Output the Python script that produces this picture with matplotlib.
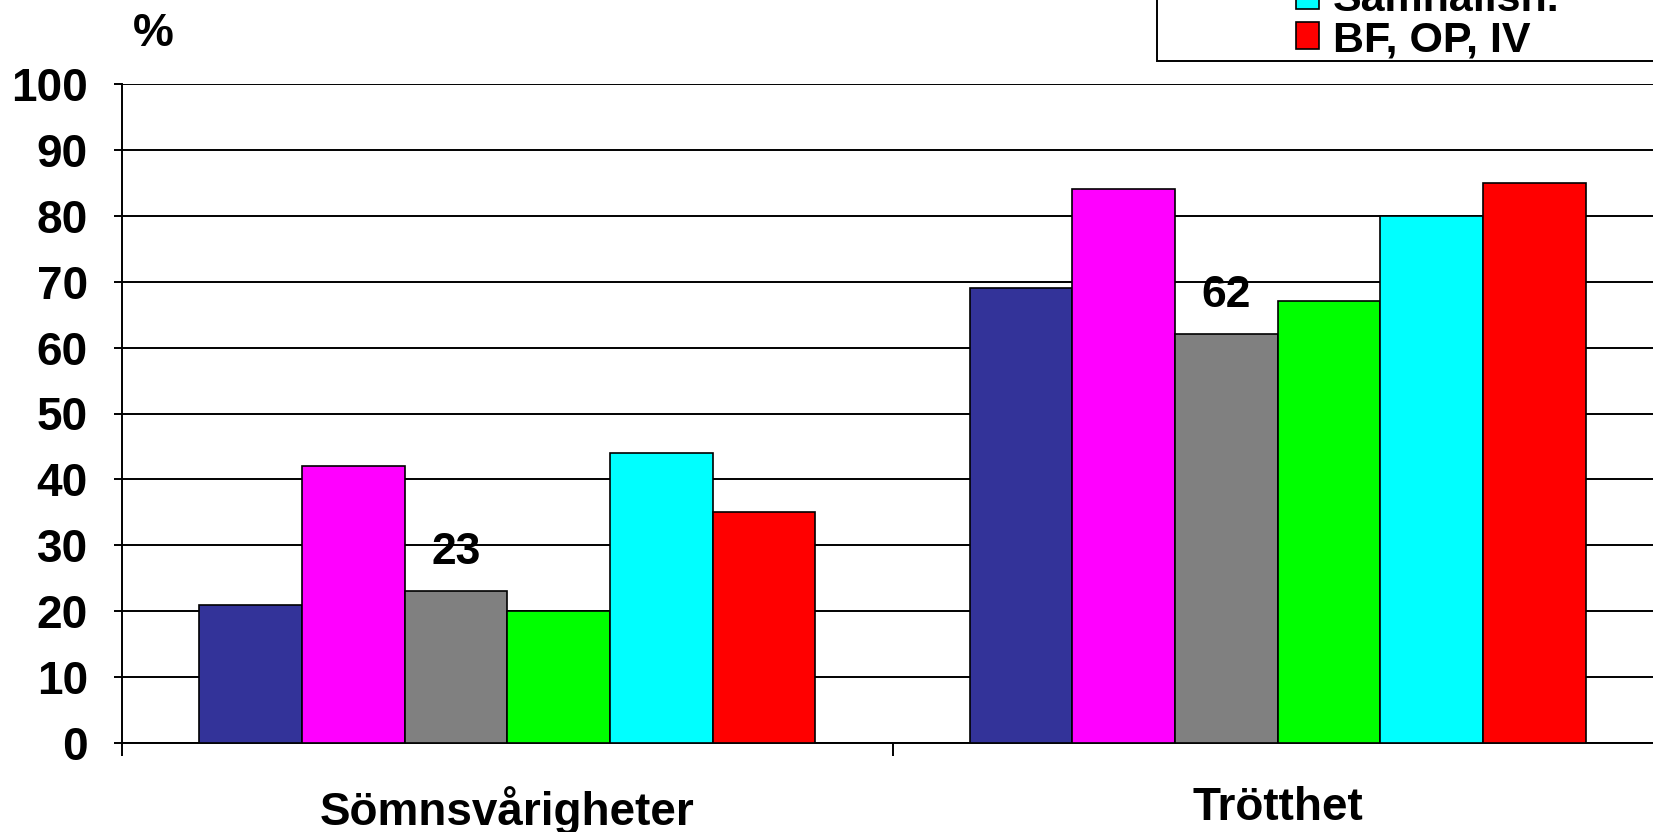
import matplotlib
matplotlib.use("Agg")
import matplotlib.pyplot as plt
from matplotlib.patches import Rectangle
import numpy as np

categories = ["Sömnsvårigheter", "Trötthet"]
series_names = ["Serie 1", "Serie 2", "Serie 3", "Serie 4", "Samhällsh.", "BF, OP, IV"]
series_colors = ["#333399", "#FF00FF", "#808080", "#00FF00", "#00FFFF", "#FF0000"]
values = [
    [21, 69],
    [42, 84],
    [23, 62],
    [20, 67],
    [44, 80],
    [35, 85],
]
labelled_series = 2  # gray series shows value labels
legend_series = [4, 5]  # entries of the legend that show in the picture
y_ticks = [0, 10, 20, 30, 40, 50, 60, 70, 80, 90, 100]

plt.rcParams["font.family"] = ["Liberation Sans", "DejaVu Sans"]
plt.rcParams["font.weight"] = "bold"

W, H = 1653, 832
fig = plt.figure(figsize=(W / 100, H / 100), dpi=100)
ax = fig.add_axes([122 / W, 1 - 743 / H, (1663 - 122) / W, (743 - 84) / H])

x = np.arange(len(categories))
n = len(series_names)
group_w = 0.8
bw = group_w / n
handles = []
for i, (name, col, vals) in enumerate(zip(series_names, series_colors, values)):
    xs = x - group_w / 2 + bw * (i + 0.5)
    b = ax.bar(xs, vals, width=bw, color=col, edgecolor="black", linewidth=1.2,
               label=name, zorder=3)
    handles.append(b)
    if i == labelled_series:
        for xx, v in zip(xs, vals):
            ax.annotate(str(v), (xx, v), xytext=(0, 20), textcoords="offset points",
                        ha="center", va="baseline", fontsize=32, fontweight="bold", zorder=4)

ax.set_xlim(-0.5, len(categories) - 0.5)
ax.set_ylim(0, 100)
ax.set_yticks(y_ticks)
ax.set_yticklabels([str(t) for t in y_ticks], fontsize=33, fontweight="bold")
ax.yaxis.grid(True, color="black", linewidth=1.4, zorder=0)
ax.set_axisbelow(True)

ax.set_xticks(x)
ax.set_xticklabels(categories, fontsize=33, fontweight="bold")
ax.set_xticks(np.arange(len(categories) + 1) - 0.5, minor=True)
ax.tick_params(axis="x", which="major", length=0, pad=31)
ax.tick_params(axis="x", which="minor", length=9, width=1.4, direction="out")
ax.tick_params(axis="y", which="major", length=6, width=1.4, direction="out", pad=18.5)

for s in ["top", "right"]:
    ax.spines[s].set_visible(False)
for s in ["left", "bottom"]:
    ax.spines[s].set_linewidth(1.4)
    ax.spines[s].set_color("black")

fig.text(153 / W, 1 - 34 / H, "%", fontsize=33, fontweight="bold", ha="center", va="center")

# legend frame (runs off the top and right of the picture, as in the reference)
frame = Rectangle((1157 / W, 1 - 61 / H), 0.5, 0.5, transform=fig.transFigure,
                  facecolor="white", edgecolor="black", linewidth=1.4, zorder=5)
fig.add_artist(frame)
leg = fig.legend(handles=[handles[i] for i in legend_series],
                 labels=[series_names[i] for i in legend_series], loc="lower left",
                 bbox_to_anchor=(1296 / W, 1 - 60 / H), fontsize=31,
                 frameon=False, handlelength=0.53, handleheight=0.6, handletextpad=0.33,
                 labelspacing=0.0, borderpad=0.0, borderaxespad=0)
leg.set_zorder(6)
for t in leg.get_texts():
    t.set_fontweight("bold")
fig.savefig("out.png", dpi=100)
